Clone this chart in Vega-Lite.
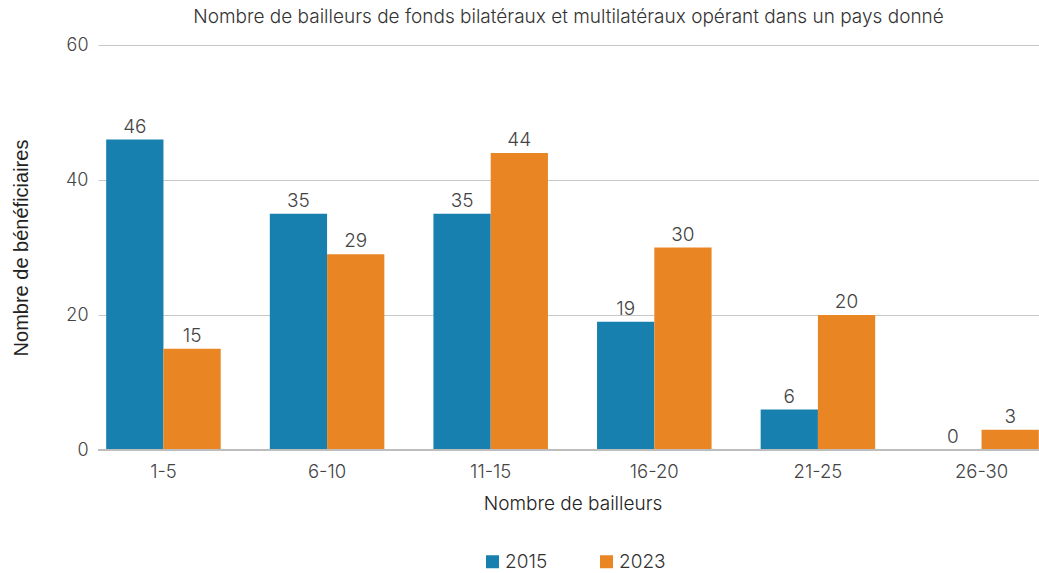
{
  "$schema": "https://vega.github.io/schema/vega-lite/v6.json",
  "autosize": "none",
  "width": 941,
  "height": 405,
  "padding": {"left": 98, "top": 45, "right": 0, "bottom": 123},
  "background": "white",
  "title": {
    "text": "Nombre de bailleurs de fonds bilatéraux et multilatéraux opérant dans un pays donné",
    "font": "Inter",
    "fontSize": 19,
    "fontWeight": 300,
    "color": "#333333",
    "anchor": "middle",
    "offset": 9
  },
  "config": {
    "view": {"stroke": null},
    "font": "Inter"
  },
  "data": {
    "values": [
      {"groupe": "1-5", "annee": "2015", "valeur": 46},
      {"groupe": "1-5", "annee": "2023", "valeur": 15},
      {"groupe": "6-10", "annee": "2015", "valeur": 35},
      {"groupe": "6-10", "annee": "2023", "valeur": 29},
      {"groupe": "11-15", "annee": "2015", "valeur": 35},
      {"groupe": "11-15", "annee": "2023", "valeur": 44},
      {"groupe": "16-20", "annee": "2015", "valeur": 19},
      {"groupe": "16-20", "annee": "2023", "valeur": 30},
      {"groupe": "21-25", "annee": "2015", "valeur": 6},
      {"groupe": "21-25", "annee": "2023", "valeur": 20},
      {"groupe": "26-30", "annee": "2015", "valeur": 0},
      {"groupe": "26-30", "annee": "2023", "valeur": 3}
    ]
  },
  "layer": [
    {
      "mark": {"type": "bar"},
      "encoding": {
        "x": {
          "field": "groupe",
          "type": "nominal",
          "sort": null,
          "scale": {"range": [0, 949], "paddingInner": 0.3, "paddingOuter": 0.05},
          "axis": {
            "title": "Nombre de bailleurs",
            "titleFont": "Inter",
            "titleFontSize": 19,
            "titleFontWeight": 300,
            "titleColor": "#222222",
            "titlePadding": 14,
            "labelFont": "Inter",
            "labelFontSize": 18.5,
            "labelFontWeight": 300,
            "labelColor": "#444444",
            "labelPadding": 12,
            "labelAngle": 0,
            "domain": false,
            "ticks": false
          }
        },
        "xOffset": {
          "field": "annee",
          "type": "nominal",
          "scale": {"paddingInner": 0, "paddingOuter": 0}
        },
        "y": {
          "field": "valeur",
          "type": "quantitative",
          "scale": {"domain": [0, 60], "nice": false},
          "axis": {
            "title": "Nombre de bénéficiaires",
            "titleFont": "Liberation Sans",
            "titleFontSize": 20,
            "titleFontWeight": 400,
            "titleColor": "#222222",
            "titlePadding": 34,
            "values": [0, 20, 40, 60],
            "labelFont": "Inter",
            "labelFontSize": 18,
            "labelFontWeight": 300,
            "labelColor": "#444444",
            "labelPadding": 10,
            "grid": true,
            "gridColor": "#c8c8c8",
            "gridWidth": 1,
            "domain": false,
            "ticks": false
          }
        },
        "color": {
          "field": "annee",
          "type": "nominal",
          "scale": {"domain": ["2015", "2023"], "range": ["#1780ae", "#e98623"]},
          "legend": {
            "title": null,
            "orient": "none",
            "direction": "horizontal",
            "legendX": 385,
            "legendY": 507,
            "symbolType": "square",
            "symbolSize": 169,
            "symbolStrokeWidth": 0,
            "labelFont": "Inter",
            "labelFontSize": 19,
            "labelFontWeight": 300,
            "labelColor": "#333333",
            "labelOffset": 3,
            "columnPadding": 49
          }
        }
      }
    },
    {
      "mark": {"type": "text", "baseline": "bottom", "dy": -3, "font": "Inter", "fontSize": 19, "fontWeight": 300, "color": "#444444"},
      "encoding": {
        "x": {"field": "groupe", "type": "nominal", "sort": null},
        "xOffset": {"field": "annee", "type": "nominal"},
        "y": {"field": "valeur", "type": "quantitative"},
        "text": {"field": "valeur", "type": "quantitative"}
      }
    },
    {
      "mark": {"type": "rule", "color": "#bdbdbd", "strokeWidth": 2},
      "encoding": {"y": {"datum": 0, "type": "quantitative"}}
    }
  ]
}
